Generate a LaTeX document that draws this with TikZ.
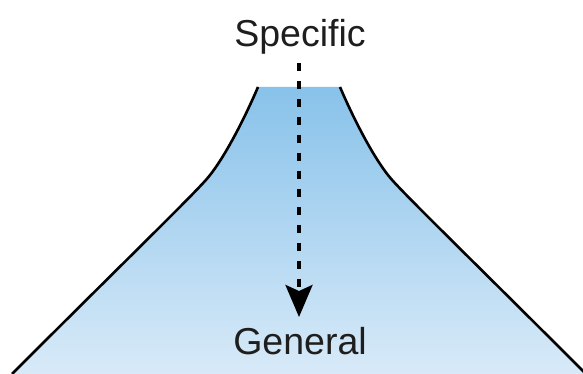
\documentclass[tikz,border=0pt]{standalone}
\usepackage{fontspec}
\setmainfont{Liberation Sans}
\usetikzlibrary{arrows.meta}
\definecolor{mtop}{RGB}{136,194,234}
\definecolor{mbot}{RGB}{216,234,248}
\definecolor{txt}{RGB}{30,30,30}
\tikzset{
  lbl/.style={anchor=base, text=txt, font=\fontsize{37.5}{40}\selectfont, inner sep=0pt},
  edge/.style={draw=black, line width=2.6pt},
  flow/.style={line width=3.6pt, dash pattern=on 8pt off 10pt, -{Stealth[length=32pt,width=27pt,inset=6pt]}}
}
\begin{document}
\begin{tikzpicture}[x=1pt,y=1pt]
\useasboundingbox (0,0) rectangle (583,374);
\begin{scope}
\clip (0,0) rectangle (583,374);
\shade[top color=mtop, bottom color=mbot]
  (258,287) .. controls (250,268) and (226,216) .. (205,193)
            .. controls (184,170) and (120,108) .. (12,0)
  -- (586,0)
            .. controls (478,108) and (414,170) .. (393,193)
            .. controls (372,216) and (348,268) .. (340,287) -- cycle;
\draw[edge] (258,287) .. controls (250,268) and (226,216) .. (205,193)
            .. controls (184,170) and (120,108) .. (12,0);
\draw[edge] (340,287) .. controls (348,268) and (372,216) .. (393,193)
            .. controls (414,170) and (478,108) .. (586,0);
\end{scope}
\node[lbl] (spec) at (300,327) {Specific};
\node[lbl] (gen) at (300,19) {General};
\coordinate (s) at (299,311);
\coordinate (t) at (299,57);
\draw[flow] (s) -- (t);
\end{tikzpicture}
\end{document}
